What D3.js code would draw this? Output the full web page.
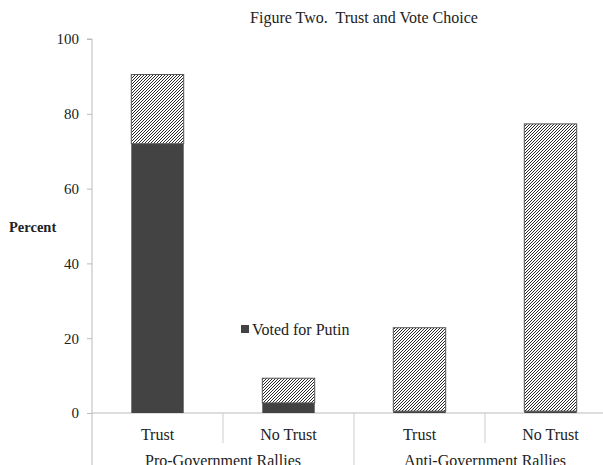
<!DOCTYPE html>
<html>
<head>
<meta charset="utf-8">
<script src="https://cdn.jsdelivr.net/npm/d3@7"></script>
<style>
  body { margin: 0; background: #fff; }
  svg { display: block; font-family: "Liberation Serif", "DejaVu Serif", serif; }
</style>
</head>
<body>
<svg width="603" height="465"></svg>
<script>
var svg = d3.select('svg');

// data
var categories = ['Trust', 'No Trust', 'Trust', 'No Trust'];
var groups = ['Pro-Government Rallies', 'Anti-Government Rallies'];
var votedPutin = [72, 2.7, 0.5, 0.5];
var otherVote = [18.5, 6.6, 22.3, 76.8];
var yTicks = [0, 20, 40, 60, 80, 100];

var rows = categories.map(function (c, i) {
    return {i: i, voted: votedPutin[i], other: otherVote[i]};
});

var plotLeft = 92, plotRight = 616, plotTop = 39, plotBottom = 413;

var x = d3.scaleBand()
    .domain(d3.range(categories.length))
    .range([plotLeft, plotRight])
    .paddingInner(0.6)
    .paddingOuter(0.3);

var y = d3.scaleLinear().domain([0, 100]).range([plotBottom, plotTop]);

// hatch pattern
var defs = svg.append('defs');
var pat = defs.append('pattern')
    .attr('id', 'hatch')
    .attr('patternUnits', 'userSpaceOnUse')
    .attr('width', 3)
    .attr('height', 3);
pat.append('rect').attr('width', 3).attr('height', 3).attr('fill', '#fff');
pat.append('path')
    .attr('d', 'M-1,1 l2,-2 M0,3 l3,-3 M2,4 l2,-2')
    .attr('stroke', '#111')
    .attr('stroke-width', 0.9);

// title
svg.append('text')
    .attr('x', 364)
    .attr('y', 23)
    .attr('text-anchor', 'middle')
    .attr('font-size', 16)
    .attr('fill', '#222')
    .style('white-space', 'pre')
    .text('Figure Two.  Trust and Vote Choice');

// y axis
var yAxis = svg.append('g')
    .attr('transform', 'translate(' + plotLeft + ',0)')
    .call(d3.axisLeft(y).tickValues(yTicks).tickSize(5).tickPadding(8).tickFormat(d3.format('d')));
yAxis.select('.domain').attr('stroke', '#bbb').attr('d', 'M-5,' + plotTop + 'H0V465');
yAxis.selectAll('.tick line').attr('stroke', '#bbb');
yAxis.selectAll('.tick text')
    .attr('font-size', 15)
    .attr('fill', '#222')
    .attr('font-family', '"Liberation Serif", serif');

svg.append('text')
    .attr('x', 9)
    .attr('y', 232)
    .attr('font-size', 14.5)
    .attr('font-weight', 'bold')
    .attr('fill', '#222')
    .text('Percent');

// baseline
svg.append('line')
    .attr('x1', plotLeft).attr('x2', 603)
    .attr('y1', plotBottom).attr('y2', plotBottom)
    .attr('stroke', '#bbb');

// stacked bars
var stack = d3.stack().keys(['voted', 'other']);
var series = stack(rows);

svg.append('g').selectAll('g')
    .data(series)
    .enter()
    .append('g')
    .each(function (s) {
        d3.select(this).selectAll('rect')
            .data(s)
            .enter()
            .append('rect')
            .attr('x', function (d) { return x(d.data.i); })
            .attr('width', x.bandwidth())
            .attr('y', function (d) { return y(d[1]); })
            .attr('height', function (d) { return y(d[0]) - y(d[1]); })
            .attr('fill', s.key == 'voted' ? '#434343' : 'url(#hatch)')
            .attr('stroke', s.key == 'voted' ? 'none' : '#555')
            .attr('stroke-width', 1);
    });

// category dividers and labels
var step = x.step();
d3.range(1, categories.length + 1).forEach(function (i) {
    var bx = plotLeft + i * step;
    var long = (i % 2 == 0);
    svg.append('line')
        .attr('x1', bx).attr('x2', bx)
        .attr('y1', plotBottom).attr('y2', long ? 465 : 443)
        .attr('stroke', '#ccc');
});

svg.append('g').selectAll('text')
    .data(categories)
    .enter()
    .append('text')
    .attr('x', function (d, i) { return x(i) + x.bandwidth() / 2; })
    .attr('y', 440)
    .attr('text-anchor', 'middle')
    .attr('font-size', 16)
    .attr('fill', '#222')
    .text(function (d) { return d; });

svg.append('g').selectAll('text')
    .data(groups)
    .enter()
    .append('text')
    .attr('x', function (d, i) { return plotLeft + step * (2 * i + 1); })
    .attr('y', 466)
    .attr('text-anchor', 'middle')
    .attr('font-size', 16)
    .attr('fill', '#222')
    .text(function (d) { return d; });

// legend
svg.append('rect')
    .attr('x', 241).attr('y', 325)
    .attr('width', 8).attr('height', 8)
    .attr('fill', '#434343');
svg.append('text')
    .attr('x', 252)
    .attr('y', 335)
    .attr('font-size', 16)
    .attr('fill', '#222')
    .text('Voted for Putin');
</script>
</body>
</html>
